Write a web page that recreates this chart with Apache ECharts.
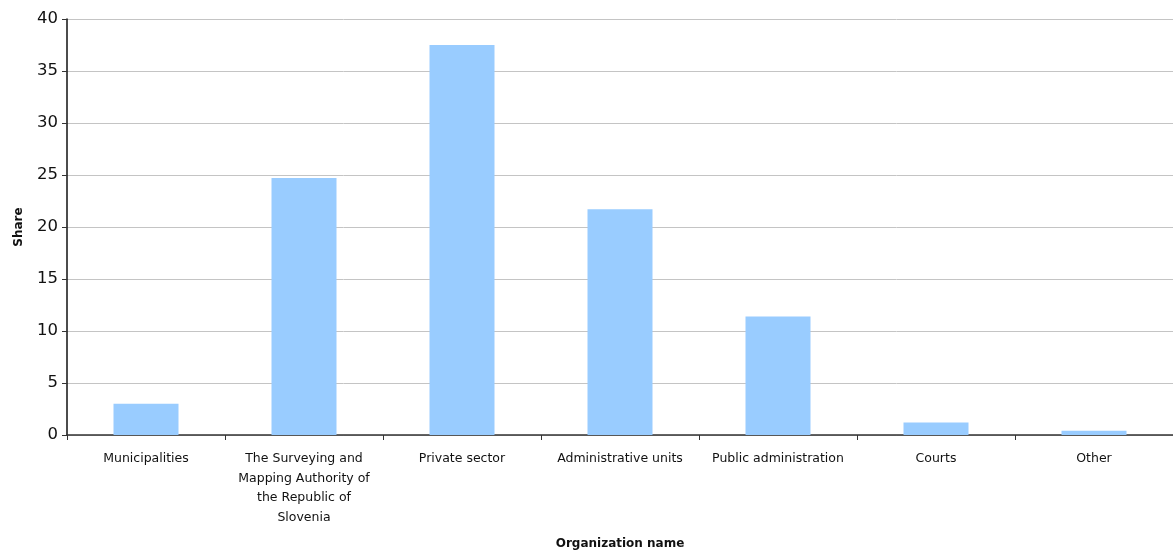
<!DOCTYPE html>
<html>
<head>
<meta charset="utf-8">
<script src="https://cdn.jsdelivr.net/npm/echarts@6/dist/echarts.min.js"></script>
<style>
  html, body { margin: 0; padding: 0; background: #fff; }
  #main { width: 1173px; height: 554px; }
</style>
</head>
<body>
<div id="main"></div>
<script>
  // organisations and their share (%)
  var categories = [
    'Municipalities',
    'The Surveying and\nMapping Authority of\nthe Republic of\nSlovenia',
    'Private sector',
    'Administrative units',
    'Public administration',
    'Courts',
    'Other'
  ];
  var shares = [3.0, 24.7, 37.5, 21.7, 11.4, 1.2, 0.4];

  var font = 'DejaVu Sans';
  var myChart = echarts.init(document.getElementById('main'));
  myChart.setOption({
    animation: false,
    grid: { left: 67, right: 0, top: 19, bottom: 119, containLabel: false, outerBoundsMode: 'none' },
    xAxis: {
      type: 'category',
      data: categories,
      name: 'Organization name',
      nameLocation: 'middle',
      nameGap: 103,
      nameTextStyle: { fontFamily: font, fontSize: 12, fontWeight: 'bold', color: '#111' },
      axisLine: { lineStyle: { color: '#333', width: 1.5 } },
      axisTick: { show: true, length: 5, alignWithLabel: false, lineStyle: { color: '#333' } },
      axisLabel: {
        interval: 0,
        margin: 14,
        fontFamily: font,
        fontSize: 12.5,
        lineHeight: 19.5,
        color: '#111'
      }
    },
    yAxis: {
      type: 'value',
      min: 0,
      max: 40,
      interval: 5,
      name: 'Share',
      nameLocation: 'middle',
      nameGap: 42,
      nameTextStyle: { fontFamily: font, fontSize: 12, fontWeight: 'bold', color: '#111' },
      axisLine: { show: true, lineStyle: { color: '#111', width: 1.5 } },
      axisTick: { show: true, length: 5, lineStyle: { color: '#333' } },
      axisLabel: { margin: 9, fontFamily: font, fontSize: 16.5, color: '#111' },
      splitLine: { lineStyle: { color: '#c4c4c4', width: 1 } }
    },
    series: [{
      type: 'bar',
      data: shares,
      barWidth: 65,
      itemStyle: { color: '#99ccff' }
    }]
  });
</script>
</body>
</html>
